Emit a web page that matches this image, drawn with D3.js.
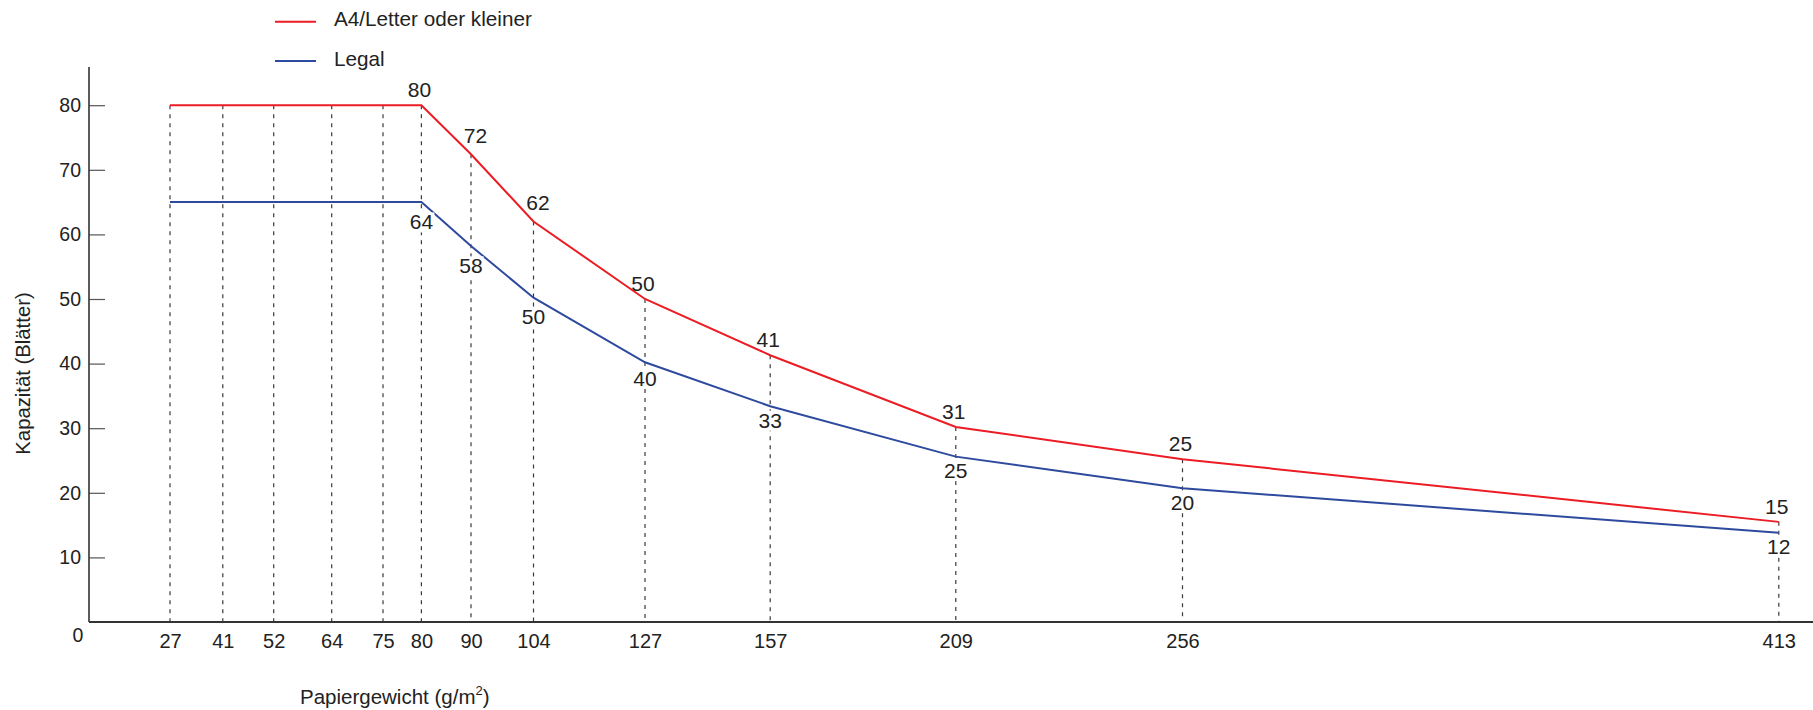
<!DOCTYPE html>
<html>
<head>
<meta charset="utf-8">
<script src="https://cdn.jsdelivr.net/npm/d3@7"></script>
<style>
  html, body { margin: 0; padding: 0; background: #fff; }
  svg { display: block; font-family: "Liberation Sans", Arial, Helvetica, sans-serif; }
</style>
</head>
<body>
<svg id="chart" width="1813" height="710"></svg>
<script>
// ---- data ----
const weights = [27, 41, 52, 64, 75, 80, 90, 104, 127, 157, 209, 256, 413];
const a4Values = [80, 80, 80, 80, 80, 80, 72.4, 62, 50, 41.3, 30.2, 25.2, 15.5];
const legalValues = [65, 65, 65, 65, 65, 65, 58.2, 50.2, 40.2, 33.4, 25.6, 20.7, 13.8];
const a4Labels = [null, null, null, null, null, "80", "72", "62", "50", "41", "31", "25", "15"];
const legalLabels = [null, null, null, null, null, "64", "58", "50", "40", "33", "25", "20", "12"];
const yTicks = [10, 20, 30, 40, 50, 60, 70, 80];
const seriesNames = ["A4/Letter oder kleiner", "Legal"];
const xTitle = "Papiergewicht (g/m";
const yTitle = "Kapazität (Blätter)";

// ---- layout ----
const W = 1813, H = 710;
const axisX = 89, axisY = 622, axisTop = 67;
// hand-laid x axis: position of each weight stop along the axis
const xRangeStops = [170, 222.8, 273.7, 331.7, 383, 421.4, 471, 533.5, 645, 770.2, 955.8, 1182.5, 1778.8];
const colors = { a4: "#ec1c24", legal: "#2e4a9e", text: "#222", axis: "#333", dash: "#3a3a3a" };

const svg = d3.select("#chart");

const x = d3.scaleLinear().domain(weights).range(xRangeStops);
const y = d3.scaleLinear().domain([0, 80]).range([axisY, 105.2]);

// dashed verticals (from A4 line down to axis)
svg.append("g").selectAll("line").data(weights).join("line")
  .attr("x1", d => x(d)).attr("x2", d => x(d))
  .attr("y1", (d, i) => y(a4Values[i])).attr("y2", y(0))
  .attr("stroke", colors.dash).attr("stroke-width", 1.2)
  .attr("stroke-dasharray", "4,5");

// y axis
const yAxis = svg.append("g").attr("transform", `translate(${axisX},0)`)
  .call(d3.axisLeft(y).tickValues(yTicks).tickSize(-16).tickPadding(8));
yAxis.select(".domain").remove();
yAxis.selectAll(".tick line").attr("stroke", "#555").attr("stroke-width", 1.2);
yAxis.selectAll(".tick text").attr("fill", colors.text).style("font-size", "19.5px")
  .style("font-family", "'Liberation Sans', Arial, sans-serif");

// x axis
const xAxis = svg.append("g").attr("transform", `translate(0,${axisY})`)
  .call(d3.axisBottom(x).tickValues(weights).tickFormat(d3.format("d")).tickSize(0).tickPadding(12));
xAxis.select(".domain").remove();
xAxis.selectAll(".tick text").attr("fill", colors.text).style("font-size", "20px")
  .style("font-family", "'Liberation Sans', Arial, sans-serif");

// axis lines
svg.append("line").attr("x1", axisX).attr("x2", axisX).attr("y1", axisTop).attr("y2", axisY)
  .attr("stroke", colors.axis).attr("stroke-width", 1.6);
svg.append("line").attr("x1", axisX).attr("x2", W).attr("y1", axisY).attr("y2", axisY)
  .attr("stroke", colors.axis).attr("stroke-width", 1.8);

// zero label
svg.append("text").attr("x", 78).attr("y", y(0) + 19.5).attr("text-anchor", "middle")
  .attr("fill", colors.text).style("font-size", "19.5px").text("0");

// lines
const line = d3.line().x((d, i) => x(weights[i])).y(d => y(d));
svg.append("path").datum(legalValues).attr("d", line)
  .attr("fill", "none").attr("stroke", colors.legal).attr("stroke-width", 2);
svg.append("path").datum(a4Values).attr("d", line)
  .attr("fill", "none").attr("stroke", colors.a4).attr("stroke-width", 2);

// value labels: nudged away from the line where it is steep
function slopeIn(values, i) {
  return i > 0 ? Math.abs((y(values[i]) - y(values[i - 1])) / (x(weights[i]) - x(weights[i - 1]))) : 0;
}
function slopeMax(values, i) {
  const s = [slopeIn(values, i)];
  if (i < values.length - 1) s.push(Math.abs((y(values[i + 1]) - y(values[i])) / (x(weights[i + 1]) - x(weights[i]))));
  return d3.max(s);
}
function addLabels(values, labels, opts) {
  const g = svg.append("g");
  labels.forEach((t, i) => {
    if (t == null) return;
    let dx = 0, dy;
    if (opts.above) {
      const steep = slopeIn(values, i) > 0.9;
      dx = steep ? 4.5 : -2;
      dy = -(steep ? 11 : 8);
    } else {
      dy = 21.5 + 12 * Math.max(0, slopeMax(values, i) - 0.4);
    }
    const txt = g.append("text")
      .attr("x", x(weights[i]) + dx).attr("y", y(values[i]) + dy)
      .attr("text-anchor", "middle").attr("fill", colors.text)
      .style("font-size", "21px").text(t);
    if (opts.bg) {
      const b = txt.node().getBBox();
      g.insert("rect", () => txt.node())
        .attr("x", b.x - 1).attr("y", b.y + 2).attr("width", b.width + 2).attr("height", b.height - 3)
        .attr("fill", "#fff");
    }
  });
}
addLabels(a4Values, a4Labels, { above: true, bg: false });
addLabels(legalValues, legalLabels, { above: false, bg: true });

// legend
const legend = svg.append("g");
[[seriesNames[0], colors.a4, 21.7, 25.7], [seriesNames[1], colors.legal, 61, 66]].forEach(([name, c, ly, ty]) => {
  legend.append("line").attr("x1", 275).attr("x2", 316).attr("y1", ly).attr("y2", ly)
    .attr("stroke", c).attr("stroke-width", 2);
  legend.append("text").attr("x", 334).attr("y", ty).attr("fill", colors.text)
    .style("font-size", "20.7px").text(name);
});

// axis titles
const xt = svg.append("text").attr("x", 300).attr("y", 704).attr("fill", colors.text).style("font-size", "20.5px");
xt.append("tspan").text(xTitle);
xt.append("tspan").attr("dy", -9).style("font-size", "13px").text("2");
xt.append("tspan").attr("dy", 9).text(")");

svg.append("text").attr("transform", `translate(30,373.5) rotate(-90)`)
  .attr("text-anchor", "middle").attr("fill", colors.text).style("font-size", "20.3px").text(yTitle);
</script>
</body>
</html>
